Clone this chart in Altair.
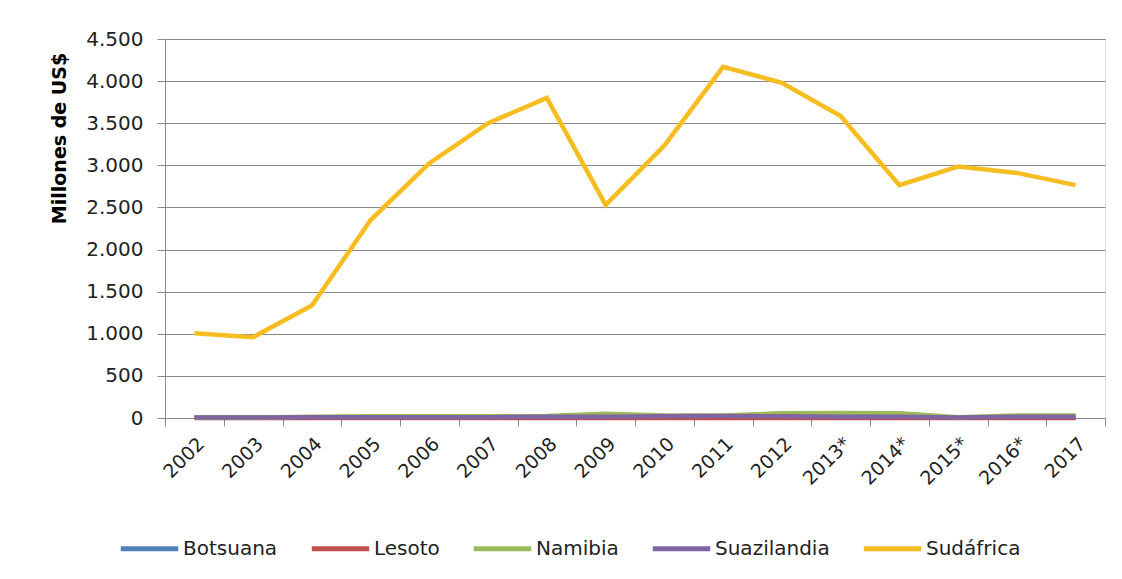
import altair as alt
import pandas as pd

years = ["2002", "2003", "2004", "2005", "2006", "2007", "2008", "2009",
         "2010", "2011", "2012", "2013*", "2014*", "2015*", "2016*", "2017"]

botsuana = [2, 3, 5, 5, 5, 5, 5, 8, 10, 10, 10, 10, 8, 5, 5, 5]
lesoto = [1, 1, 1, 1, 1, 1, 1, 1, 1, 1, 1, 1, 1, 1, 1, 1]
namibia = [5, 5, 15, 20, 20, 20, 25, 50, 30, 30, 55, 60, 55, 10, 30, 30]
suazilandia = [5, 5, 10, 10, 10, 10, 15, 15, 20, 25, 20, 15, 15, 5, 15, 15]
sudafrica = [1005, 960, 1335, 2350, 3025, 3500, 3800, 2530,
             3235, 4170, 3980, 3585, 2765, 2985, 2910, 2765]

countries = ["Botsuana", "Lesoto", "Namibia", "Suazilandia", "Sudáfrica"]
colors = ["#4F81BD", "#C0504D", "#9BBB59", "#8064A2", "#F5BD1F"]
series = [botsuana, lesoto, namibia, suazilandia, sudafrica]

rows = []
for c, vals in zip(countries, series):
    for y, v in zip(years, vals):
        rows.append({"year": y, "value": v, "country": c, "order": countries.index(c)})
df = pd.DataFrame(rows)

y_ticks = [0, 500, 1000, 1500, 2000, 2500, 3000, 3500, 4000, 4500]
grid_color = "#8A8A8A"

chart = alt.Chart(df).mark_line(strokeWidth=4.5, strokeJoin="miter").encode(
    x=alt.X("year:O", sort=years, bandPosition=0.5,
            scale=alt.Scale(type="band", paddingInner=0, paddingOuter=0),
            axis=alt.Axis(title=None, labelAngle=-45, labelFont="DejaVu Sans",
                          labelFontSize=19, labelColor="#222222",
                          tickBand="extent", tickSize=8, tickColor=grid_color,
                          domainColor=grid_color, labelPadding=8,
                          grid=False)),
    y=alt.Y("value:Q", scale=alt.Scale(domain=[0, 4500], nice=False),
            axis=alt.Axis(values=y_ticks, title="Millones de US$",
                          labelExpr="replace(format(datum.value, ','), ',', '.')",
                          labelFont="DejaVu Sans", labelFontSize=20, labelColor="#222222",
                          labelPadding=14, tickSize=8, tickColor=grid_color,
                          domainColor=grid_color, gridColor=grid_color, gridOpacity=1,
                          titleFont="DejaVu Sans", titleFontSize=19, titleFontWeight="bold",
                          titleColor="#000000", titleAngle=270, titleX=-100, titleY=99,
                          titleAlign="center", titleBaseline="alphabetic")),
    color=alt.Color("country:N", scale=alt.Scale(domain=countries, range=colors),
                    legend=alt.Legend(title=None, orient="none", direction="horizontal",
                                      legendX=-47, legendY=478,
                                      symbolType="stroke", symbolSize=3300,
                                      symbolStrokeWidth=5, labelFont="DejaVu Sans",
                                      labelFontSize=20, labelColor="#222222",
                                      labelOffset=2, columnPadding=23)),
    order=alt.Order("order:Q"),
).properties(
    width=940, height=379,
    autosize=alt.AutoSizeParams(type="none"),
    padding={"left": 157, "top": 31, "right": 9, "bottom": 150},
).configure_view(stroke=None).configure(background="white")

chart.save("out.html", embed_options={"renderer": "svg", "actions": False})
